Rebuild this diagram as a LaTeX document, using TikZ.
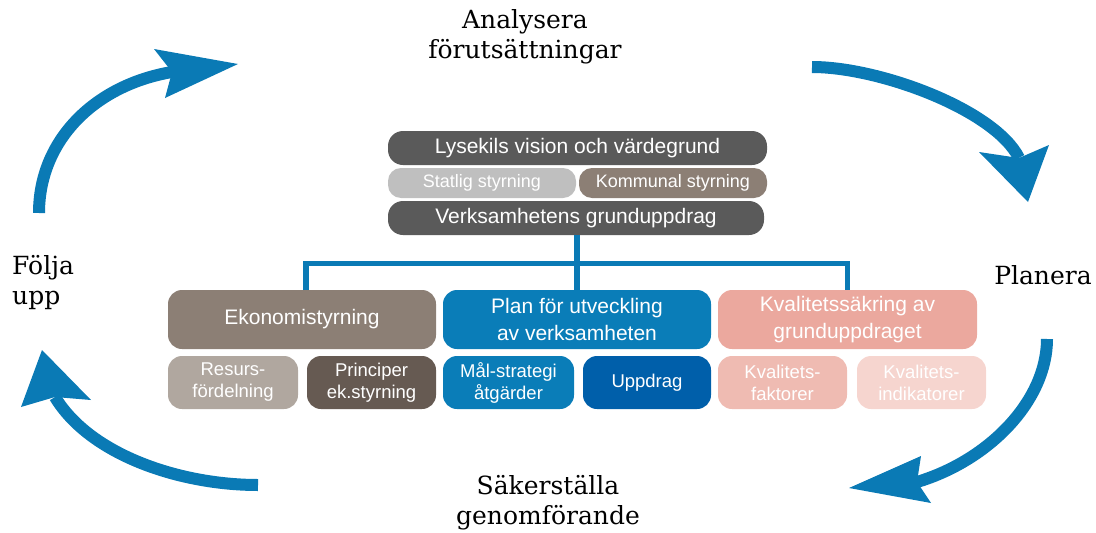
\documentclass[tikz,border=0pt]{standalone}
\usepackage{fontspec}
\setmainfont{DejaVu Serif}
\newfontfamily\boxfont{Liberation Sans}
\usetikzlibrary{calc}
\definecolor{arrowblue}{HTML}{0A7AB5}
\definecolor{darkbar}{HTML}{5A5A5A}
\definecolor{lightbar}{HTML}{BFBFBF}
\definecolor{brownbar}{HTML}{8C7F75}
\definecolor{planblue}{HTML}{0A7DB8}
\definecolor{uppblue}{HTML}{005FAA}
\definecolor{kvalpink}{HTML}{EBA89E}
\definecolor{resursc}{HTML}{B0A79F}
\definecolor{princc}{HTML}{665A52}
\definecolor{faktc}{HTML}{EFBBB2}
\definecolor{indc}{HTML}{F6D5CF}
\tikzset{
  bar/.style={rounded corners=15pt, text=white, inner sep=0pt, align=center,
    font=\boxfont\fontsize{21}{24}\selectfont},
  midbar/.style={rounded corners=13pt, text=white, inner sep=0pt, align=center,
    font=\boxfont\fontsize{18}{21}\selectfont},
  bigbox/.style={rounded corners=14pt, text=white, inner sep=0pt, align=center,
    minimum width=268pt, minimum height=59pt,
    font=\boxfont\fontsize{21}{27}\selectfont},
  smallbox/.style={rounded corners=14pt, text=white, inner sep=0pt, align=center,
    minimum width=129pt, minimum height=53pt,
    font=\boxfont\fontsize{18.5}{22}\selectfont},
  conn/.style={draw=arrowblue, line width=5.5pt},
  shaft/.style={draw=arrowblue, line width=12pt},
  head/.style={fill=arrowblue},
  lbl/.style={font=\fontsize{25}{30}\selectfont, inner sep=0pt, align=center}
}
\begin{document}
\begin{tikzpicture}[x=1pt,y=-1pt]
\useasboundingbox (0,0) rectangle (1096,533);

% top bars
\node[bar, fill=darkbar, minimum width=379pt, minimum height=34pt] (lys) at (577.5,148) {Lysekils vision och värdegrund};
\node[midbar, fill=lightbar, minimum width=188pt, minimum height=30pt] (stat) at (482,183) {Statlig styrning};
\node[midbar, fill=brownbar, minimum width=188pt, minimum height=30pt] (komm) at (673,183) {Kommunal styrning};
\node[bar, fill=darkbar, minimum width=376pt, minimum height=34pt] (verk) at (576,218) {Verksamhetens grunduppdrag};

% middle boxes
\node[bigbox, fill=brownbar] (eko) at (302,319.5) {Ekonomistyrning};
\node[bigbox, fill=planblue] (plan) at (577,319.5) {Plan för utveckling\\av verksamheten};
\node[bigbox, fill=kvalpink, minimum width=259pt] (kval) at (847.5,319.5) {Kvalitetssäkring av\\grunduppdraget};

% small boxes
\node[smallbox, fill=resursc, minimum width=130pt] (res) at (233,382.5) {Resurs-\\fördelning};
\node[smallbox, fill=princc] (pri) at (371.5,382.5) {Principer\\ek.styrning};
\node[smallbox, fill=planblue, minimum width=131pt] (mal) at (508.5,382.5) {Mål-strategi\\åtgärder};
\node[smallbox, fill=uppblue, minimum width=128pt] (upp) at (647,382.5) {Uppdrag};
\node[smallbox, fill=faktc] (fak) at (782.5,382.5) {Kvalitets-\\faktorer};
\node[smallbox, fill=indc] (ind) at (921.5,382.5) {Kvalitets-\\indikatorer};

% connectors
\coordinate (hub) at (577,263.5);
\coordinate (ekotop) at (306,290);
\draw[conn] (verk.south -| hub) -- (plan.north -| hub);
\draw[conn] (ekotop) |- (hub) -| (kval.north);

% labels
\node[lbl] (ana) at (525,37) {Analysera\\förutsättningar};
\node[lbl] (pla) at (1043,275) {Planera};
\node[lbl] (sak) at (548,503) {Säkerställa\\genomförande};
\node[lbl, anchor=west, align=left] (fol) at (12,283) {Följa\\upp};

% arrow 1 (top-left)
\coordinate (a1s) at (39,213);
\coordinate (a1n) at (172,72);
\coordinate (a1t) at (238,64);
\draw[shaft] (a1s) .. controls (39,140) and (95,85) .. (a1n);
\fill[head] (a1t) -- (154,49) -- (a1n) -- (165,98) -- cycle;

% arrow 2 (top-right)
\coordinate (a2s) at (812,67);
\coordinate (a2n) at (1019,158);
\coordinate (a2t) at (1028,202);
\draw[shaft] (a2s) .. controls (880,67) and (995,110) .. (a2n);
\fill[head] (a2t) -- (979,152) -- (a2n) -- (1049,145) -- cycle;

% arrow 3 (bottom-right)
\coordinate (a3s) at (1047,339);
\coordinate (a3n) at (917,482);
\coordinate (a3t) at (849,488);
\draw[shaft] (a3s) .. controls (1047,400) and (990,460) .. (a3n);
\fill[head] (a3t) -- (921,456) -- (a3n) -- (931,503) -- cycle;

% arrow 4 (bottom-left)
\coordinate (a4s) at (258,485);
\coordinate (a4n) at (55,397);
\coordinate (a4t) at (42,350);
\draw[shaft] (a4s) .. controls (180,485) and (90,455) .. (a4n);
\fill[head] (a4t) -- (21,407) -- (a4n) -- (91,400) -- cycle;
\end{tikzpicture}
\end{document}
